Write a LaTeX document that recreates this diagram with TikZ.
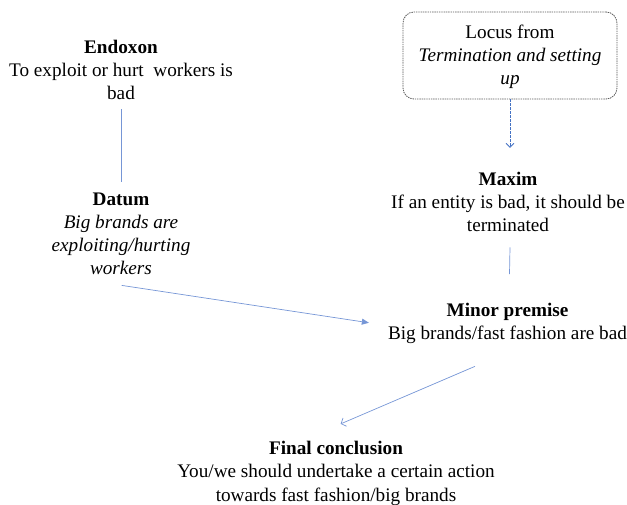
\documentclass[tikz,border=0pt]{standalone}
\usepackage{fontspec}
\setmainfont{Liberation Serif}
\usetikzlibrary{arrows.meta,calc}
\definecolor{conn}{RGB}{118,150,214}
\definecolor{dashblue}{RGB}{68,114,196}
\definecolor{boxgray}{RGB}{90,90,90}
\tikzset{
  txt/.style={inner sep=0pt, align=center, anchor=base, font=\fontsize{19.2}{23.3}\selectfont},
  locusbox/.style={draw=boxgray, dash pattern=on 1.4pt off 0.9pt, line width=0.8pt, rounded corners=11pt,
     minimum width=214pt, minimum height=87pt, inner sep=0pt},
  conline/.style={draw=conn, line width=0.7pt},
  filledarrow/.style={conline, -{Triangle[length=7pt,width=6pt]}},
  openarrow/.style={conline, -{Straight Barb[length=4pt,width=9pt]}},
  dasharrow/.style={draw=dashblue, line width=0.8pt, dash pattern=on 2.5pt off 1.5pt, -{Straight Barb[length=4pt,width=8pt]}}
}
\begin{document}
\begin{tikzpicture}[x=1pt,y=1pt]
\useasboundingbox (0,0) rectangle (627,-505);
\node[txt] (endoxon) at (121,-100) {\textbf{Endoxon}\\To exploit or hurt\ \ workers is\\bad};
\node[txt] (datum) at (121,-275) {\textbf{Datum}\\\textit{Big brands are}\\\textit{exploiting/hurting}\\\textit{workers}};
\node[locusbox] (locus) at (510,-55.5) {};
\node[txt] (locustext) at (510,-85) {Locus from\\\textit{Termination and setting}\\\textit{up}};
\node[txt] (maxim) at (508,-232) {\textbf{Maxim}\\If an entity is bad, it should be\\terminated};
\node[txt] (minor) at (507.5,-340) {\textbf{Minor premise}\\Big brands/fast fashion are bad};
\node[txt] (final) at (336,-501) {\textbf{Final conclusion}\\You/we should undertake a certain action\\towards fast fashion/big brands};
\draw[conline] ($(endoxon.south)+(0,-9)$) -- ($(datum.north)+(0,10)$);
\draw[dasharrow] (locus.south) -- ($(maxim.north)+(2,24)$);
\draw[conline] ($(maxim.south)+(2,-15)$) -- ($(minor.north)+(2,29)$);
\draw[filledarrow] ($(datum.south)+(0.7,-10)$) -- ($(minor.west)+(-19,1)$);
\draw[openarrow] ($(minor.south)+(-32.5,-22)$) -- ($(final.north)+(4.7,17)$);
\end{tikzpicture}
\end{document}
